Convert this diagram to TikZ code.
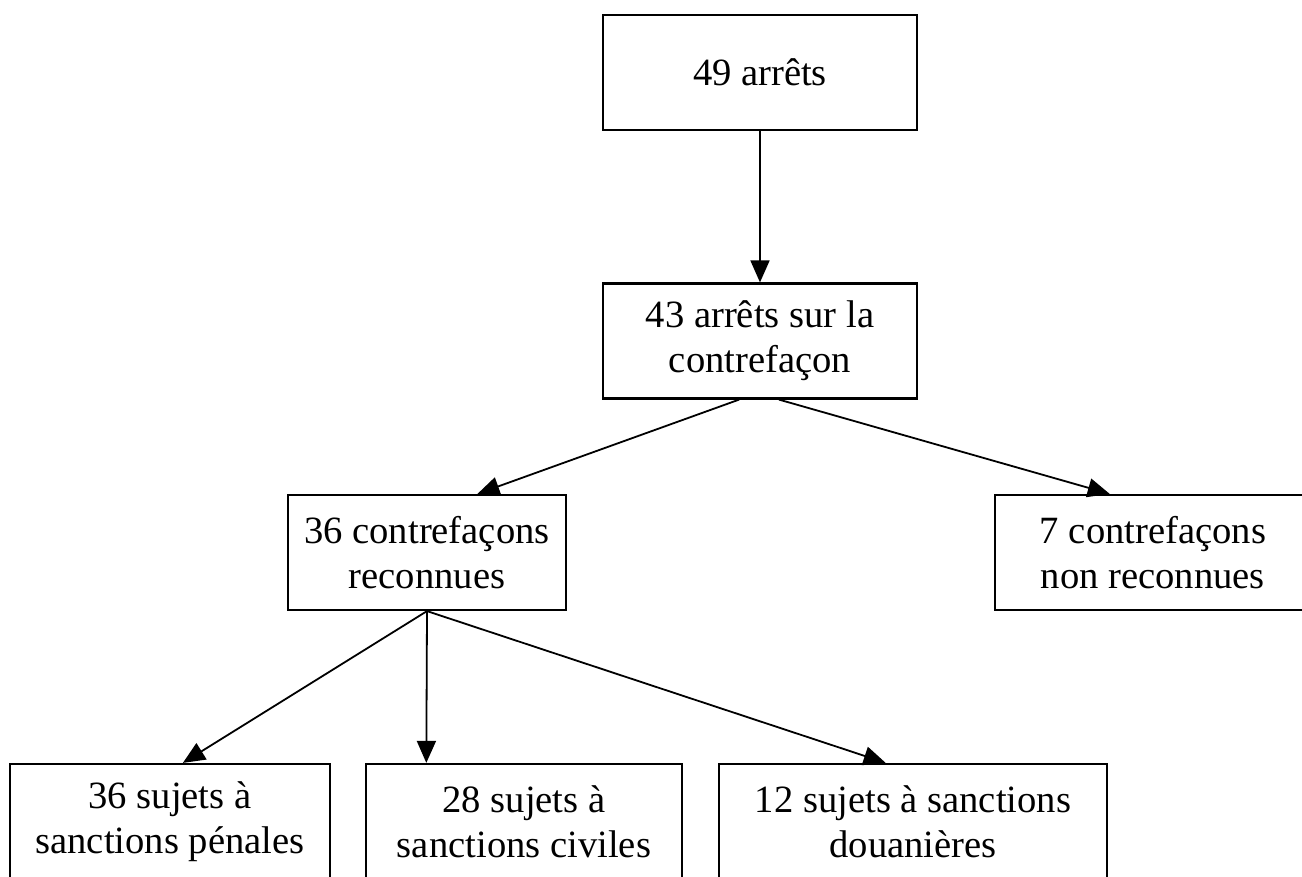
\documentclass[tikz,border=0pt]{standalone}
\usepackage{fontspec}
\setmainfont{Liberation Serif}
\usetikzlibrary{arrows.meta,calc}
\tikzset{
  box/.style={draw, line width=1.1pt, inner sep=0pt, align=center, minimum height=57.5pt,
    font=\fontsize{19.3}{22.5}\selectfont},
  conn/.style={line width=0.9pt, -{Triangle[length=11pt,width=9.5pt]}}
}
\begin{document}
\begin{tikzpicture}[x=0.5pt,y=-0.5pt]
\useasboundingbox (0,0) rectangle (1302,877);
\clip (0,0) rectangle (1302,877);
\fill[white] (0,0) rectangle (1302,877);
\node[box, minimum width=157pt] (A) at (760,72.5) {49 arrêts};
\node[box, minimum width=157pt] (B) at (760,341) {43 arrêts sur la\\contrefaçon};
\node[box, minimum width=139pt] (C) at (427,552.5) {36 contrefaçons\\reconnues};
\node[box, minimum width=158pt] (D) at (1153,552.5) {7 contrefaçons\\non reconnues};
\node[box, minimum width=160pt] (E) at (170,821.5) {36 sujets à\\sanctions pénales};
\node[box, minimum width=158pt] (F) at (524,821.5) {28 sujets à\\sanctions civiles};
\node[box, minimum width=194pt] (G) at (913,821.5) {12 sujets à sanctions\\douanières};
\draw[conn] (A.south) -- (B.north);
\draw[conn] ($(B.south west)!0.434!(B.south east)$) -- ($(C.north west)!0.68!(C.north east)$);
\draw[conn] ($(B.south west)!0.56!(B.south east)$) -- ($(D.north west)!0.364!(D.north east)$);
\draw[conn] (C.south) -- ($(E.north west)!0.54!(E.north east)$);
\draw[conn] (C.south) -- ($(F.north west)!0.193!(F.north east)$);
\draw[conn] (C.south) -- ($(G.north west)!0.43!(G.north east)$);
\end{tikzpicture}
\end{document}
